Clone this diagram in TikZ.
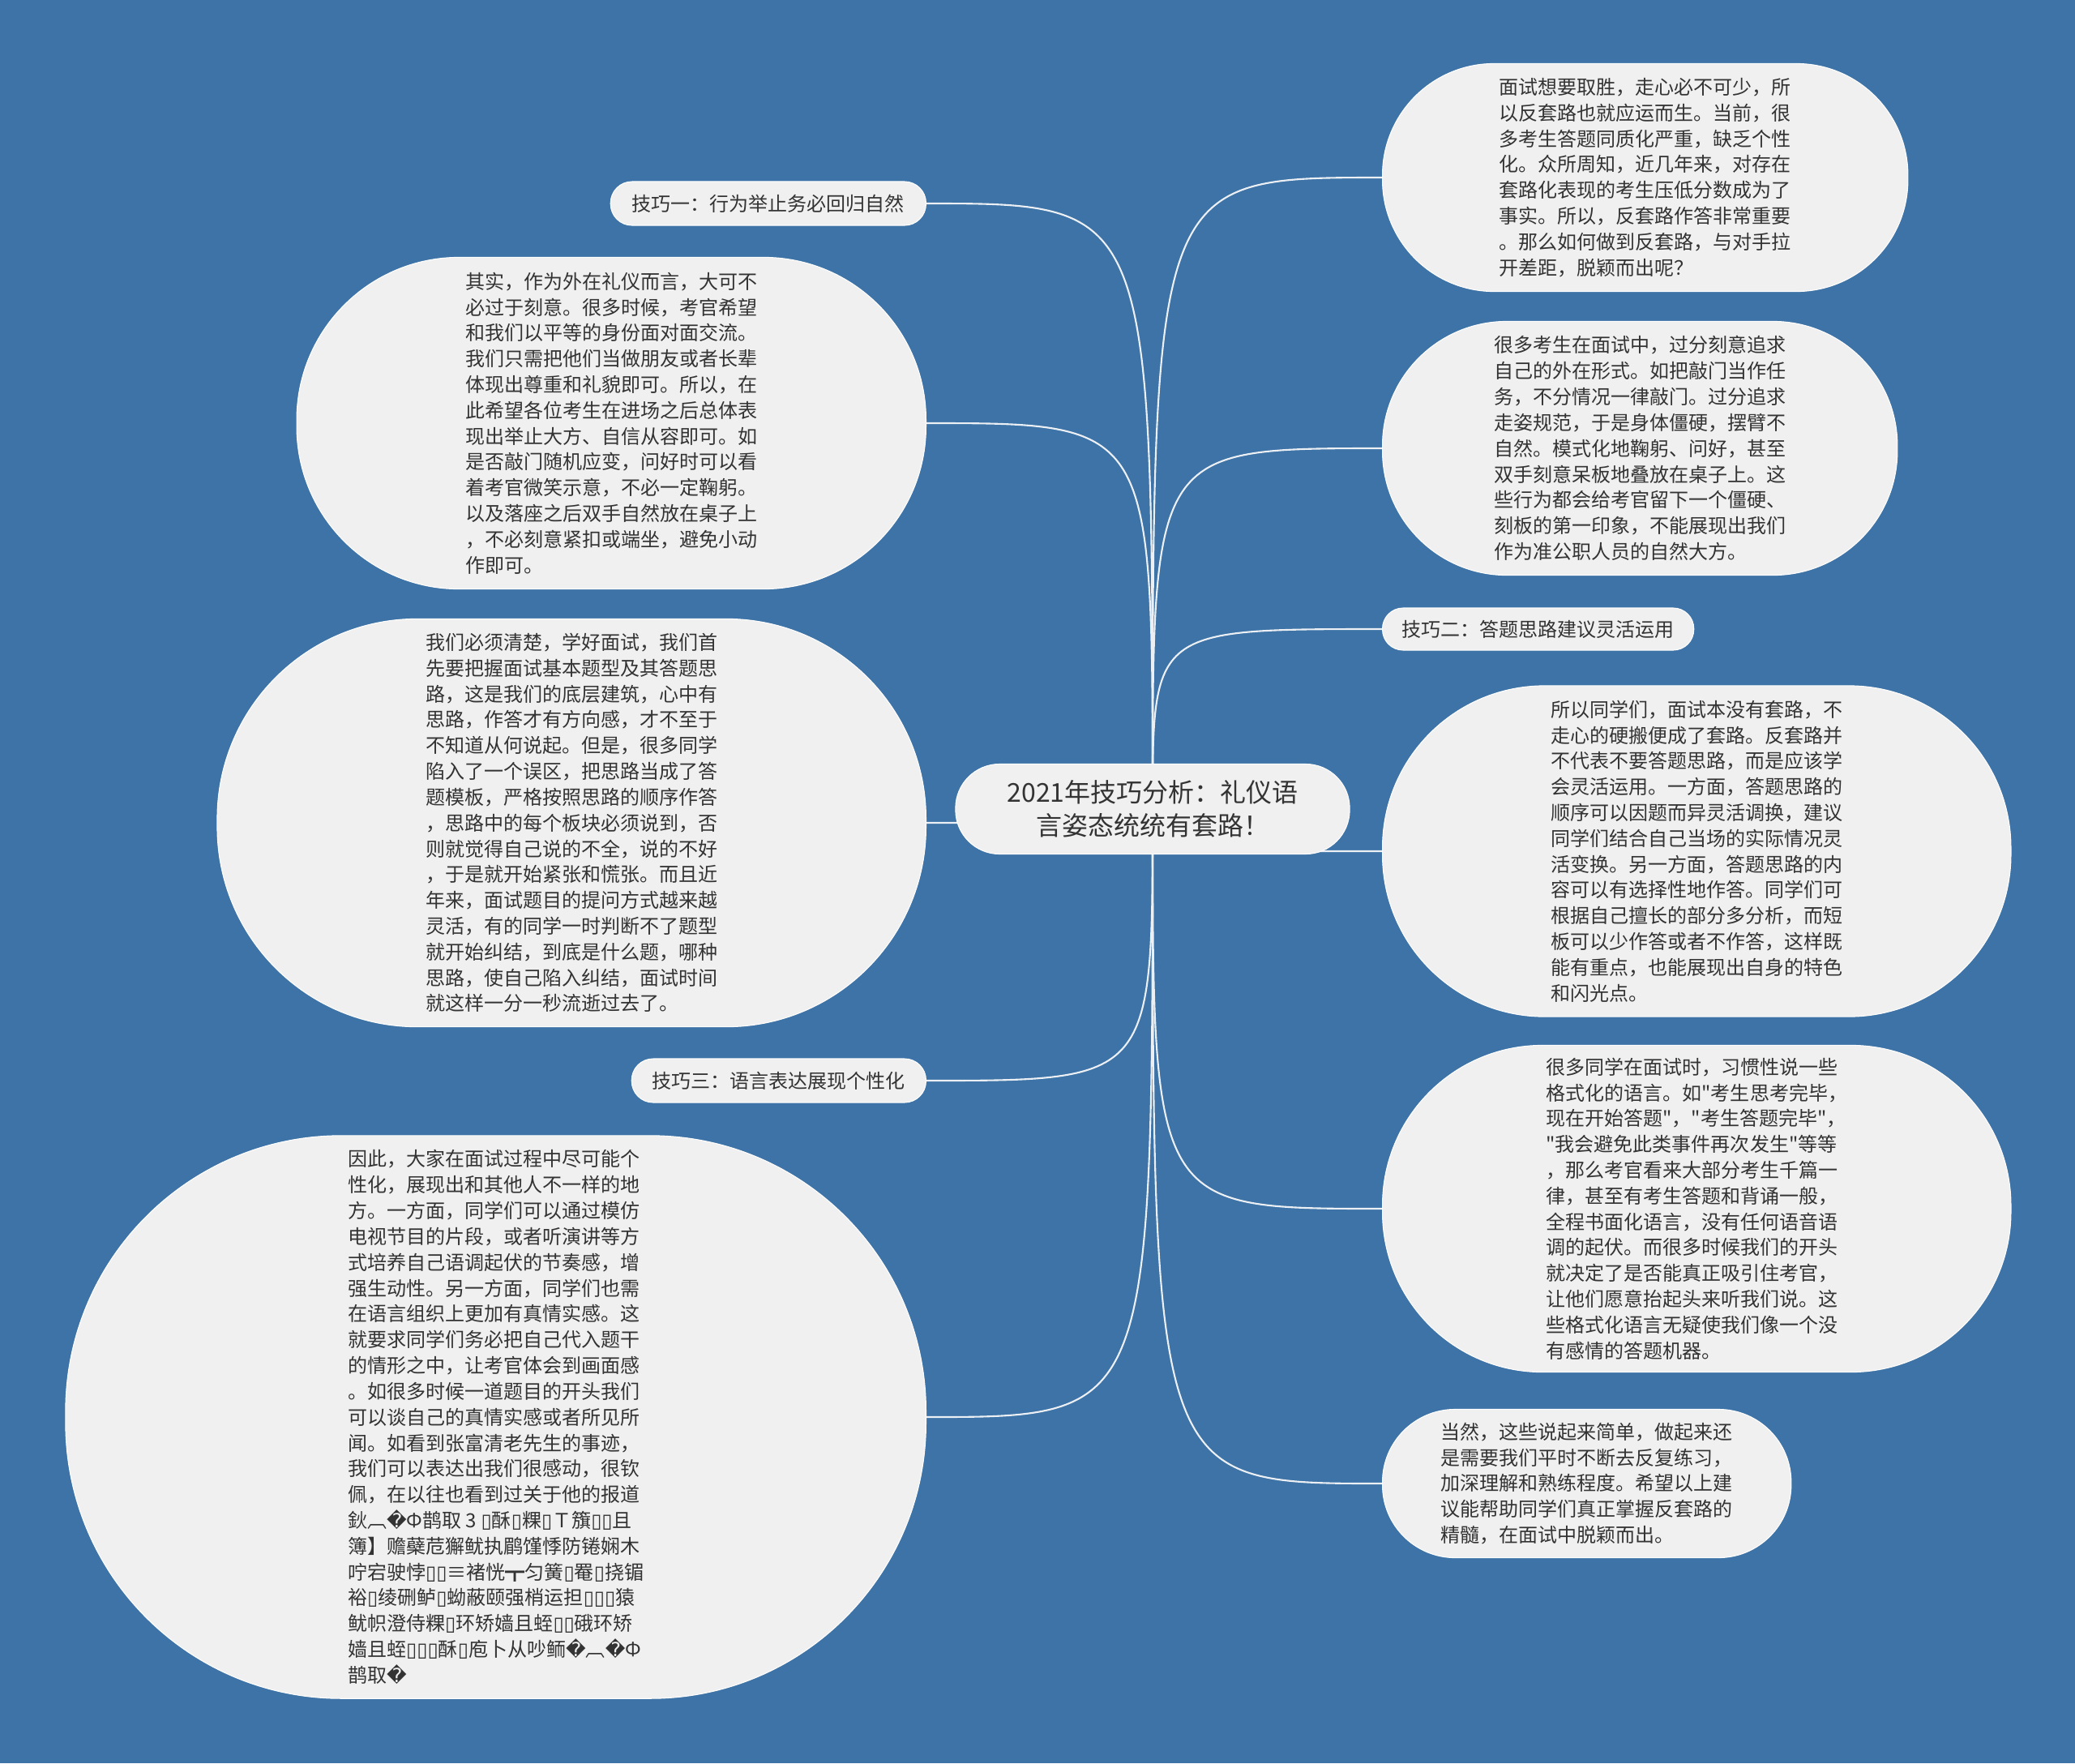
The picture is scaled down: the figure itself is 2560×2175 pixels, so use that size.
\documentclass[tikz,border=0pt]{standalone}
\usepackage{fontspec}
\setmainfont{Noto Sans CJK SC}
\newfontfamily\cjkplain{Noto Sans CJK SC}
\newfontfamily\dejavu{DejaVu Sans}
\usetikzlibrary{positioning, calc, backgrounds}

\definecolor{bgblue}{RGB}{61,115,166}
\definecolor{bubblefill}{RGB}{240,240,240}
\definecolor{ink}{RGB}{51,51,51}
\definecolor{wire}{RGB}{236,240,244}

\newcommand{\leaffont}{\fontsize{6.83pt}{9.05pt}\selectfont}
\newcommand{\rootfont}{\fontsize{9.1pt}{11.67pt}\selectfont}
\newcommand{\rpl}{{\dejavu\symbol{"FFFD}}}
\newcommand{\nog}{{\dejavu\symbol{"25AF}}}
\newcommand{\qq}{{\cjkplain "}}

\begin{document}
\begin{tikzpicture}[
    x=0.01cm, y=-0.01cm,
    pill/.style 2 args={rectangle, fill=bubblefill, text=ink, draw=white!85!bubblefill, line width=0.3pt,
        inner sep=0pt, minimum width=#1, minimum height=#2, rounded corners=0.49*#2},
    root/.style={font=\rootfont, align=center},
    tip/.style={font=\leaffont},
    leaf/.style={font=\leaffont, align=left},
    link/.style={draw=wire, line width=0.6pt}
]
\useasboundingbox (0,0) rectangle (2560,2175);

% Nodes
\node [root, pill={4.86cm}{1.11cm}] (ctr) at (1422,998) {2021年技巧分析：礼仪语\\言姿态统统有套路！};

\node [tip, pill={3.89cm}{0.54cm}, anchor=east] (t1) at (1143,251) {技巧一：行为举止务必回归自然};
\node [tip, pill={3.84cm}{0.52cm}, anchor=west] (t2) at (1705,776) {技巧二：答题思路建议灵活运用};
\node [tip, pill={3.63cm}{0.54cm}, anchor=east] (t3) at (1143,1333) {技巧三：语言表达展现个性化};

\node [leaf, pill={6.48cm}{2.81cm}, anchor=west] (r1) at (1705,219) {面试想要取胜，走心必不可少，所\\以反套路也就应运而生。当前，很\\多考生答题同质化严重，缺乏个性\\化。众所周知，近几年来，对存在\\套路化表现的考生压低分数成为了\\事实。所以，反套路作答非常重要\\。那么如何做到反套路，与对手拉\\开差距，脱颖而出呢？};
\node [leaf, pill={6.35cm}{3.13cm}, anchor=west] (r2) at (1705,553) {很多考生在面试中，过分刻意追求\\自己的外在形式。如把敲门当作任\\务，不分情况一律敲门。过分追求\\走姿规范，于是身体僵硬，摆臂不\\自然。模式化地鞠躬、问好，甚至\\双手刻意呆板地叠放在桌子上。这\\些行为都会给考官留下一个僵硬、\\刻板的第一印象，不能展现出我们\\作为准公职人员的自然大方。};
\node [leaf, pill={7.75cm}{4.08cm}, anchor=west] (r3) at (1705,1050) {所以同学们，面试本没有套路，不\\走心的硬搬便成了套路。反套路并\\不代表不要答题思路，而是应该学\\会灵活运用。一方面，答题思路的\\顺序可以因题而异灵活调换，建议\\同学们结合自己当场的实际情况灵\\活变换。另一方面，答题思路的内\\容可以有选择性地作答。同学们可\\根据自己擅长的部分多分析，而短\\板可以少作答或者不作答，这样既\\能有重点，也能展现出自身的特色\\和闪光点。};
\node [leaf, pill={7.75cm}{4.03cm}, anchor=west] (r4) at (1705,1491) {很多同学在面试时，习惯性说一些\\格式化的语言。如\qq 考生思考完毕，\\现在开始答题\qq ，\qq 考生答题完毕\qq ，\\\qq 我会避免此类事件再次发生\qq 等等\\，那么考官看来大部分考生千篇一\\律，甚至有考生答题和背诵一般，\\全程书面化语言，没有任何语音语\\调的起伏。而很多时候我们的开头\\就决定了是否能真正吸引住考官，\\让他们愿意抬起头来听我们说。这\\些格式化语言无疑使我们像一个没\\有感情的答题机器。};
\node [leaf, pill={5.04cm}{1.83cm}, anchor=west] (r5) at (1705,1830) {当然，这些说起来简单，做起来还\\是需要我们平时不断去反复练习，\\加深理解和熟练程度。希望以上建\\议能帮助同学们真正掌握反套路的\\精髓，在面试中脱颖而出。};

\node [leaf, pill={7.76cm}{4.09cm}, anchor=east] (l1) at (1143,522) {其实，作为外在礼仪而言，大可不\\必过于刻意。很多时候，考官希望\\和我们以平等的身份面对面交流。\\我们只需把他们当做朋友或者长辈\\体现出尊重和礼貌即可。所以，在\\此希望各位考生在进场之后总体表\\现出举止大方、自信从容即可。如\\是否敲门随机应变，问好时可以看\\着考官微笑示意，不必一定鞠躬。\\以及落座之后双手自然放在桌子上\\，不必刻意紧扣或端坐，避免小动\\作即可。};
\node [leaf, pill={8.74cm}{5.03cm}, anchor=east] (l2) at (1143,1015) {我们必须清楚，学好面试，我们首\\先要把握面试基本题型及其答题思\\路，这是我们的底层建筑，心中有\\思路，作答才有方向感，才不至于\\不知道从何说起。但是，很多同学\\陷入了一个误区，把思路当成了答\\题模板，严格按照思路的顺序作答\\，思路中的每个板块必须说到，否\\则就觉得自己说的不全，说的不好\\，于是就开始紧张和慌张。而且近\\年来，面试题目的提问方式越来越\\灵活，有的同学一时判断不了题型\\就开始纠结，到底是什么题，哪种\\思路，使自己陷入纠结，面试时间\\就这样一分一秒流逝过去了。};
\node [leaf, pill={10.61cm}{6.94cm}, anchor=east] (l3) at (1143,1748) {因此，大家在面试过程中尽可能个\\性化，展现出和其他人不一样的地\\方。一方面，同学们可以通过模仿\\电视节目的片段，或者听演讲等方\\式培养自己语调起伏的节奏感，增\\强生动性。另一方面，同学们也需\\在语言组织上更加有真情实感。这\\就要求同学们务必把自己代入题干\\的情形之中，让考官体会到画面感\\。如很多时候一道题目的开头我们\\可以谈自己的真情实感或者所见所\\闻。如看到张富清老先生的事迹，\\我们可以表达出我们很感动，很钦\\佩，在以往也看到过关于他的报道\\鈥︹\rpl Ф鹊取 3 \nog 酥\nog 粿\nog Ｔ籏\nog\nog 且\\簿】赡蘗苊獬鱿执鹛馑悸防锩娴木\\咛宕驶悖\nog\nog ≡褚恍┳匀簧\nog 罨\nog 挠镅\\裕\nog 绫硎鲈\nog 蚴蔽颐强梢运担\nog\nog\nog 猿\\鱿帜澄侍粿\nog 环矫嫱且蛭\nog\nog 硪环矫\\嫱且蛭\nog\nog\nog 酥\nog 庖卜从吵鲕\rpl ︹\rpl Ф\\鹊取\rpl};

% Lines
\begin{scope}[on background layer]
\fill [bgblue] (0,0) rectangle (2560,2175);
\path [link] (ctr.center) .. controls (ctr.center |- r1.west) .. (r1.west);
\path [link] (ctr.center) .. controls (ctr.center |- r2.west) .. (r2.west);
\path [link] (ctr.center) .. controls (ctr.center |- t2.west) .. (t2.west);
\path [link] (ctr.center) .. controls (ctr.center |- r3.west) .. (r3.west);
\path [link] (ctr.center) .. controls (ctr.center |- r4.west) .. (r4.west);
\path [link] (ctr.center) .. controls (ctr.center |- r5.west) .. (r5.west);
\path [link] (ctr.center) .. controls (ctr.center |- t1.east) .. (t1.east);
\path [link] (ctr.center) .. controls (ctr.center |- l1.east) .. (l1.east);
\path [link] (ctr.center) .. controls (ctr.center |- l2.east) .. (l2.east);
\path [link] (ctr.center) .. controls (ctr.center |- t3.east) .. (t3.east);
\path [link] (ctr.center) .. controls (ctr.center |- l3.east) .. (l3.east);
\end{scope}

\end{tikzpicture}
\end{document}
